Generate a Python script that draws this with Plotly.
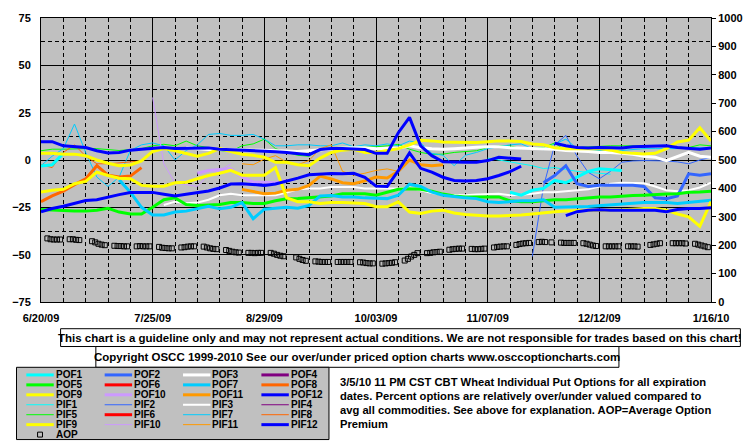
import pandas as pd
import plotly.graph_objects as go

# ---------------- data ----------------
# common sampling grid: every 3.5 days from 6/20/09 to 1/16/10 (61 points)
GRID_START = "2009-06-20"
N_PTS = 61
DATES = pd.date_range(GRID_START, periods=N_PTS, freq="84h")
N = None

POF1 = [-3.2, -2.5, 3.5] + [N] * 39 + [-17, -18.6, -16, -15, -10.8, -12, -9, -6, -4.6, -5, -5.5] + [N] * 8
POF2 = [N] * 45 + [-12, -8.2, -3, -12.5, -14, -13.4, -13.3, -13.4, -13.4, -14, -20, -20.4, -19, -7.3, -8, -7.3]
POF3 = [N] * 13 + [6.5, 6.0, 5.5, 5.7, 5.5, 5.2, 5.2, 5.2, 4.9, 4.5, 4.5, 4.9, 5.5, 6.0, 6.3, 6.5, 6.5, 6.0,
                   6.0, 6.3, 7.5, 6.5, 6.0, 5.7, 6.0, 6.5, 6.8, 7.0, 7.0, 6.5, 6.3, 6.0, 5.7, 5.7, 5.0, 4.8,
                   4.5, 4.0, 4.0, 3.5, 3.0, 2.0, 1.5, -0.3, 2.0, 4.0, 2.0, 1.5]
POF4 = [N] * N_PTS
POF5 = [-26.1, -26.5, -27, -27, -27, -26.5, -25.5, -27.5, -28.5, -28.5, -25, -21, -20, -23.5, -24, -23.8,
        -23.5, -22.5, -22.5, -23, -23, -21.5, -20.5, -20.4, -20, -19.5, -19, -17.8, -17.8, -17.8, -18.6,
        -17, -15.5, -15.2, -15.5, -16.5, -18, -19, -19.5, -19.5, -19.5, -19.5, -21.5, -22, -22, -21.5,
        -21, -21, -20.5, -20, -19.5, -19.5, -19, -18.8, -18.6, -18.2, -18, -17.8, -17, -16.9, -16.5]
POF6 = [N] * N_PTS
POF7 = [N] * 7 + [-10.5, -17, -25, -29, -29, -27.5, -27, -25.6, -24.5, -25.8, -25, -22.5, -31, -26, -25.5,
                  -25, -25.5, -24, -19, -18.8, -19.5, -19.5, -20, -20.4, -20.4, -18.6, -12.8, -14, -17,
                  -18.6, -19.5, -20, -20.4, -22, -22.5, -22, -21.5, -21.5, -21, -25, -25, -24.7, -24.5,
                  -24, -23.5, -23, -22.8, -22.5, -22.5, -22.5, -23, -22.5, -22, -21.2]
POF8 = [-22, -19, -16.5, -13, -10, -3, -8, -9, -8.5, -4] + [N] * 51
POF9 = [3.5, 3.5, 3.1, 3.1, 2.3, 0, -1.7, -3.0, -2.6, -0.5, 4.5, 6.0, 4.9, 3.5, 2.0, 3.5, 6.0, 4.5, 3.0,
        2.5, 1.5, -1.2, -1.2, -2.5, -3.0, 1.0, 4.0, 5.2, 5.7, 4.0, 4.0, 5.0, 6.0, 8.0, 10.4, 10.1, 9.5,
        9.4, 9.2, 9.2, 9.6, 10.1, 10.1, 9.8, 8.5, 8.0, 6.5, 6.0, 6.0, 6.1, 6.1, 5.2, 4.0, 3.5, 3.2, 3.5,
        6.0, 9.5, 10.5, 17.0, 10.0]
POF10 = [N] * 14 + [-7, -5.6, -5, -4.7, -9, -11.7, -11.7, -12, -10.8] + [N] * 38
POF11 = [N] * 18 + [-15.5, -16.5, -17.8, -17.5, -16, -15.5, -13.4, -8.5, -10, -12, -12.5, -11, -9, -9.5,
                    -6, 0, -2.5, -3, -2.5] + [N] * 24
POF12 = [9.7, 9.7, 7.5, 7.1, 6.6, 4.9, 3.7, 4.0, 5.2, 5.7, 6.1, 6.6, 6.1, 6.3, 6.3, 6.4, 5.7, 5.5, 5.2,
         5.0, 4.9, 4.4, 4.0, 3.5, 2.8, 5.5, 6.1, 6.1, 5.7, 5.5, 3.5, 3.5, 14.4, 22.5, 7.5, 2.3, -0.9,
         -1.2, -1.2, -1.2, -0.3, 1.4, 0.9, 0.5, N, N, 8.9, 7.5, 6.6, 6.3, 6.6, 6.6, 6.4, 7.0, 7.1, 7.5,
         7.5, 6.6, 6.1, 5.7, 6.4]

PIF1 = [N] * 40 + [1, 0, -1, -2, -3, -4.5, -4, -5, -6, -6.5, -7, -7.5] + [N] * 9
PIF2 = [N] * 44 + [-51, -14, 8, 13, 2, -6.5, -9.9, -6, -1.2, -0.5, -0.3, -0.3, -0.5, -1, -2, 0, 1.4]
PIF3 = [N] * 11 + [-23.8, -22, -22.9, -22.5, -21, -18.6, -17.8, -18.6, -18.6, -18.6, -18.6, -17.2, -15.5,
                   -15.1, -15, -14.3, -14.3, -14.3, -15.1, -15.1, -14.8, -15.1, -14.5, -16, -17.5, -18.3,
                   -18.6, -18.6, -18.2, -18, -17.8, -18.6, -18.4, -17.8, -17, -17, -16.5, -16, -15.5, -14,
                   -12.5, -12, -12, -12.3, -14, -16, -16.5, -16, -14.5, -12]
PIF4 = [N] * N_PTS
PIF5 = [4.9, 5.7, 5.7, 6.0, 6.0, 6.0, 5.7, 5.0, 5.5, 6.0, 7.5, 8.3, 7.5, 10, 7.5, 6.6, 5.0, 4.5, 7.5, 8.5,
        11, 6, 4, 2.5, 2, 5.7, 6.6, 6.6, 6.6, 6.6, 7.0, 7.5, 8.3, 5.7, 4.0, 3.0, 3.1, 4.0, 4.5, 4.9, 6.6,
        7.5, 7.5, 6, 6.6, 6.6, 9, 4.9, 6.6, 7, 7, 7.5, 7.5, 7.5, 7.5, 7.5, 7.0, 6.6, 6.6, 8, 7.5]
PIF6 = [N] * N_PTS
PIF7 = [-3, 2, 6, 19, 4, -9, -14, -9, 5, 8, 9, 7.5, 0, 5, 8, 13.5, 14, 13, 13, 13.5, 11, 7.5, 7.5, 8, 8,
        7.5, 7.5, 9, 7, 8, 7.5, 8.5, 7.5, 10, 9, 3.5, 2.5, -3, 2.5, 4, 6, 7, 8, 8.5, 6, 5.5, 8.5, 11, 6,
        5.5, 5, 4.5, 5, 5.5, 6, 6, 6, 6, 6.5, 6.5, 6.5]
PIF8 = [-2.5, -4, 4, 8, 2, -2, -2, -1.5, -1, -0.5] + [N] * 51
PIF9 = [-16.9, -16, -15.5, -12.5, -11.3, -6.4, -8.2, -9.6, -9.9, -13.4, -13.9, -13.8, -12, -11.7, -9.9,
        -8.2, -7.0, -5.5, -8, -8, -8, -4, -20, -22, -22.1, -23, -22.5, -22.5, -22.8, -23, -24.7, -24.7,
        -22.1, -27.5, -28.2, -27, -26.5, -28, -28.8, -29.3, -29.6, -29.6, -29.5, -29, -28.5, -27.8,
        -27.3, -27, -26.6, -26.5, -26.5, -26.5, -26.3, -26, -25.6, -25.6, -26.5, -28.5, -30, -35, -22]
PIF10 = [N] * 10 + [33, -2, -12, -13, -14, -8, -5.6, -2] + [N] * 43
PIF11 = [N] * 18 + [-2, -2.5, 0.5, 2.3, -1.2, -2.5, -0.3, 6, 8, -6, -8, -7, -5.5, -4.7, -6] + [N] * 26
PIF12 = [-27.3, -25.6, -24.4, -23, -21.4, -21, -19.5, -18.3, -17.2, -17.1, -17.1, -18.1, -19, -18.1,
         -17.4, -16.4, -14.8, -12.7, -12.5, -13.1, -13.4, -12.7, -11.3, -9.6, -7.8, -7.3, -7.1, -7.3,
         -7.0, -9.1, -13.8, -14, -5.6, 3.7, -4.4, -6.4, -9.1, -10.8, -11.1, -10.8, -9.9, -8.2, -6.1,
         -3.3, N, N, N, -29.4, -27.3, -26.5, -26.3, -26.5, -26.6, -26.5, -26.6, -26.5, -27.3, -26.1,
         -25.6, -25.6, -25.2]

# Average Option Premium (right axis), one value per trading day
AOP_START, AOP_END = "2009-06-22", "2010-01-15"
AOP_HOLIDAYS = ["2009-07-03", "2009-09-07", "2009-11-26", "2009-12-25", "2010-01-01"]
AOP = [224, 221, 220, 220, 220,   221, 221, 219, 218,
       214, 210, 205, 202, 200,   198, 197, 197, 196, 196,
       196, 197, 196, 196, 196,   194, 191, 190, 189, 189,
       192, 193, 195, 196, 196,   195, 192, 189, 187, 186,
       183, 180, 177, 175, 174,   173, 173, 172, 173, 173,
       173, 170, 166, 163, 161,   157, 152, 148, 145,
       143, 142, 141, 141, 141,   141, 141, 141, 141, 141,
       140, 139, 137, 136, 136,   135, 136, 137, 138, 140,
       146, 152, 160, 166, 172,   172, 173, 175, 176, 177,
       184, 186, 187, 188, 188,   187, 186, 186, 187, 188,
       192, 194, 195, 196, 196,   201, 204, 206, 207, 208,
       211, 212, 211, 210,        209, 208, 208, 208, 208,
       207, 205, 202, 199, 197,   196, 196, 196, 196, 196,
       196, 196, 196, 195,        201, 203, 205, 207,
       207, 207, 207, 207, 206,   205, 202, 199, 196, 193]
AOP_DATES = pd.bdate_range(AOP_START, AOP_END, freq="C", holidays=AOP_HOLIDAYS)

X_TICKS = ["2009-06-20", "2009-07-25", "2009-08-29", "2009-10-03", "2009-11-07", "2009-12-12", "2010-01-16"]
X_TICK_TEXT = ["6/20/09", "7/25/09", "8/29/09", "10/03/09", "11/07/09", "12/12/09", "1/16/10"]

SERIES_COLORS = ["#00FFFF", "#3366FF", "#FFFFFF", "#800080", "#00FF00", "#FF0000",
                 "#00CCFF", "#FF6600", "#FFFF00", "#CC99FF", "#FF9900", "#0000FF"]
POF = [POF1, POF2, POF3, POF4, POF5, POF6, POF7, POF8, POF9, POF10, POF11, POF12]
PIF = [PIF1, PIF2, PIF3, PIF4, PIF5, PIF6, PIF7, PIF8, PIF9, PIF10, PIF11, PIF12]
POF_W = [3] * 12
PIF_W = [1, 1, 2, 1, 1, 3, 1, 1, 3, 1, 1, 3]

NOTE_LINES = ["3/5/10 11 PM CST CBT Wheat Individual Put Options for all expiration",
              "dates. Percent options are relatively over/under valued compared to",
              "avg all commodities. See above for explanation. AOP=Average Option",
              "Premium"]
DISCLAIMER = "This chart is a guideline only and may not represent actual conditions. We are not responsible for trades based on this chart!"
COPYRIGHT = "Copyright OSCC 1999-2010 See our over/under priced option charts www.osccoptioncharts.com"

# ---------------- figure ----------------
W, H = 755, 446
ML, MR, MT, MB = 32, 39, 15, 144
PW, PH = W - ML - MR, H - MT - MB
FONT = "Liberation Sans, Arial, sans-serif"


def px(x):
    return (x - ML) / PW


def py(y):
    return (MT + PH - y) / PH


fig = go.Figure()

entries = []
for i in range(12):
    entries.append(("POF%d" % (i + 1), POF[i], SERIES_COLORS[i], POF_W[i]))
for i in range(12):
    entries.append(("PIF%d" % (i + 1), PIF[i], SERIES_COLORS[i], PIF_W[i]))

# draw thin lines first, thick lines on top
order = sorted(range(len(entries)), key=lambda j: entries[j][3])
for j in order:
    name, vals, col, wd = entries[j]
    fig.add_trace(go.Scatter(x=DATES, y=vals, mode="lines", name=name,
                             line=dict(color=col, width=wd), connectgaps=False,
                             showlegend=False, hoverinfo="skip"))

fig.add_trace(go.Scatter(x=AOP_DATES, y=AOP, mode="markers", name="AOP", yaxis="y2",
                         marker=dict(symbol="square-open", size=5, color="black",
                                     line=dict(width=1, color="black")),
                         showlegend=False, hoverinfo="skip"))

day_ms = 24 * 3600 * 1000
fig.update_layout(
    width=W, height=H,
    margin=dict(l=ML, r=MR, t=MT, b=MB, pad=0),
    paper_bgcolor="white", plot_bgcolor="#C0C0C0",
    font=dict(family=FONT, size=11, color="black", weight="bold"),
    xaxis=dict(type="date", range=["2009-06-20", "2010-01-16"],
               tickvals=X_TICKS, ticktext=X_TICK_TEXT,
               ticks="outside", ticklen=6, tickcolor="rgba(0,0,0,0)",
               showgrid=True, gridcolor="black", gridwidth=1,
               minor=dict(dtick=7 * day_ms, tick0="2009-06-20", showgrid=True,
                          gridcolor="black", gridwidth=1, griddash="4px,3px"),
               showline=True, linecolor="black", linewidth=1, mirror=True,
               zeroline=False, tickfont=dict(size=11, family=FONT, weight="bold")),
    yaxis=dict(range=[-75, 75], tickvals=[-75, -50, -25, 0, 25, 50, 75],
               ticks="outside", ticklen=7, tickcolor="rgba(0,0,0,0)",
               showgrid=True, gridcolor="black", gridwidth=1,
               minor=dict(dtick=12.5, tick0=0, showgrid=True, gridcolor="black",
                          gridwidth=1, griddash="4px,3px"),
               showline=True, linecolor="black", linewidth=1, mirror=True,
               zeroline=False, tickfont=dict(size=11, family=FONT, weight="bold")),
    yaxis2=dict(range=[0, 1000], dtick=100, overlaying="y", side="right",
                ticks="outside", ticklen=4, tickcolor="black", showgrid=False,
                showline=True, linecolor="black", zeroline=False,
                tickfont=dict(size=11, family=FONT, weight="bold")),
    showlegend=False,
)

shapes = []
annots = []
# disclaimer box
shapes.append(dict(type="rect", xref="paper", yref="paper", x0=px(52), x1=px(746), y0=py(347), y1=py(329),
                   line=dict(color="black", width=1), fillcolor="white"))
annots.append(dict(xref="paper", yref="paper", x=px(399), y=py(338.5), text=DISCLAIMER, showarrow=False,
                   xanchor="center", yanchor="middle", font=dict(size=11.5, family=FONT, weight="bold")))
# copyright box
shapes.append(dict(type="rect", xref="paper", yref="paper", x0=px(88), x1=px(622), y0=py(368), y1=py(347),
                   line=dict(color="black", width=1), fillcolor="white"))
annots.append(dict(xref="paper", yref="paper", x=px(355), y=py(357.5), text=COPYRIGHT, showarrow=False,
                   xanchor="center", yanchor="middle", font=dict(size=11.5, family=FONT, weight="bold")))
# legend box
shapes.append(dict(type="rect", xref="paper", yref="paper", x0=px(7), x1=px(326), y0=py(441), y1=py(368),
                   line=dict(color="black", width=1), fillcolor="#C0C0C0"))

legend_items = [(n, c, w) for (n, v, c, w) in entries]
for idx, (name, col, wd) in enumerate(legend_items):
    r, c = divmod(idx, 4)
    yc = 375.7 + 10.05 * r
    x0 = 17 + 80 * c
    shapes.append(dict(type="line", xref="paper", yref="paper", x0=px(x0), x1=px(x0 + 28),
                       y0=py(yc), y1=py(yc), line=dict(color=col, width=wd)))
    annots.append(dict(xref="paper", yref="paper", x=px(x0 + 29), y=py(yc), text=name, showarrow=False,
                       xanchor="left", yanchor="middle", borderpad=0,
                       font=dict(size=10, family=FONT, weight="bold")))
# AOP legend entry
yc = 375.7 + 10.05 * 6
shapes.append(dict(type="rect", xref="paper", yref="paper", x0=px(28.5), x1=px(33.5),
                   y0=py(yc + 2.5), y1=py(yc - 2.5), line=dict(color="black", width=1),
                   fillcolor="rgba(0,0,0,0)"))
annots.append(dict(xref="paper", yref="paper", x=px(46), y=py(yc), text="AOP", showarrow=False,
                   xanchor="left", yanchor="middle", borderpad=0,
                   font=dict(size=10, family=FONT, weight="bold")))

# notes to the right of legend
for i, line in enumerate(NOTE_LINES):
    annots.append(dict(xref="paper", yref="paper", x=px(336), y=py(383.3 + 13.9 * i), text=line,
                       showarrow=False, xanchor="left", yanchor="middle", borderpad=0,
                       font=dict(size=11.2, family=FONT, weight="bold")))

fig.update_layout(shapes=shapes, annotations=annots)
fig.write_html("out.html", config={"displayModeBar": False},
               post_script="document.body.style.margin='0px';")
